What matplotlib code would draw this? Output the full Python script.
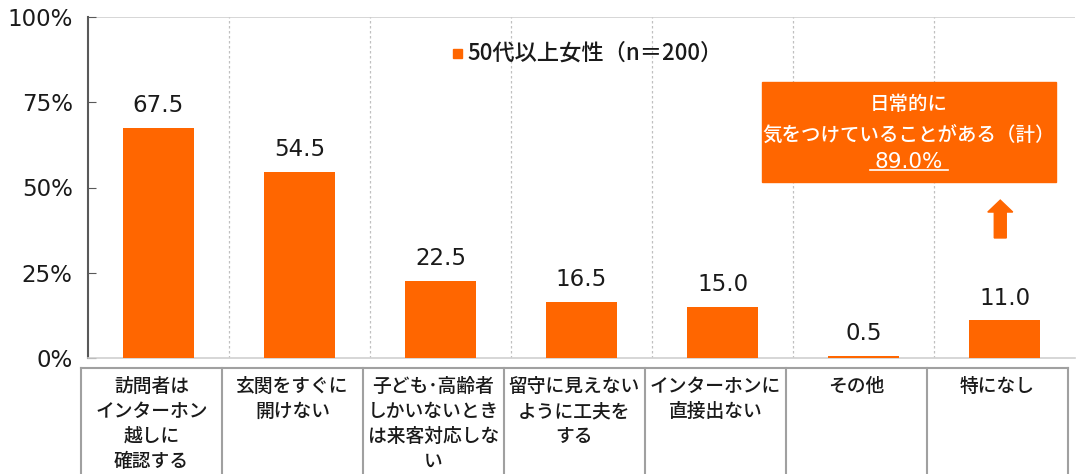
import matplotlib
matplotlib.use("Agg")
import matplotlib.pyplot as plt
from matplotlib.lines import Line2D
from matplotlib.patches import Rectangle, FancyArrow
import matplotlib.transforms as mtransforms

plt.rcParams['font.family'] = ['DejaVu Sans', 'Noto Sans CJK JP']
CJK = ['Noto Sans CJK JP', 'DejaVu Sans']

categories = ["訪問者は\nインターホン\n越しに\n確認する",
              "玄関をすぐに\n開けない",
              "子ども･高齢者\nしかいないとき\nは来客対応しな\nい",
              "留守に見えない\nように工夫を\nする",
              "インターホンに\n直接出ない",
              "その他",
              "特になし"]
values = [67.5, 54.5, 22.5, 16.5, 15.0, 0.5, 11.0]
series_name = "50代以上女性（n＝200）"
yticks = [0, 25, 50, 75, 100]
ytick_labels = ["0%", "25%", "50%", "75%", "100%"]
box_lines = ["日常的に", "気をつけていることがある（計）", "89.0%"]

ORANGE = "#FF6600"
W, H = 1077, 474
fig = plt.figure(figsize=(W / 100, H / 100), dpi=100)
ax = fig.add_axes([88 / W, 1 - 358 / H, (1075 - 88) / W, (358 - 17) / H])

x = list(range(len(values)))
ax.bar(x, values, width=0.5, color=ORANGE, zorder=3)
for xi, v in zip(x, values):
    ax.text(xi, v + 3.2, f"{v:.1f}", ha="center", va="bottom", fontsize=16.5, color="#1a1a1a")

ax.set_xlim(-0.5, len(values) - 0.5)
ax.set_ylim(0, 100)
ax.set_yticks(yticks)
ax.set_yticklabels(ytick_labels, fontsize=16.5, color="#1a1a1a")
ax.set_xticks([])
ax.tick_params(axis="y", direction="in", length=6, color="#595959", pad=11)

for s in ["top", "right"]:
    ax.spines[s].set_visible(False)
ax.spines["left"].set_color("#595959")
ax.spines["left"].set_linewidth(1.5)
ax.spines["bottom"].set_color("#d0d0d0")
ax.spines["bottom"].set_linewidth(1.2)
ax.axhline(100, color="#d0d0d0", lw=1.2, zorder=1)
for b in range(1, len(values)):
    ax.axvline(b - 0.5, color="#c0c0c0", lw=0.9, ls=(0, (2, 2)), zorder=1)

# legend
ax.add_patch(Rectangle((2.09, 87.9), 0.065, 2.7, color=ORANGE, zorder=4))
ax.text(2.19, 89.4, series_name, ha="left", va="center", fontsize=16,
        color="#1a1a1a", family=CJK, fontweight="medium")

# annotation box
ax.add_patch(Rectangle((4.28, 51.6), 2.085, 29.3, color=ORANGE, zorder=4))
bx = 5.32
ax.text(bx, 74.2, box_lines[0], ha="center", va="center", fontsize=14, color="white",
        zorder=5, family=CJK, fontweight="medium")
ax.text(bx, 65.3, box_lines[1], ha="center", va="center", fontsize=14, color="white",
        zorder=5, family=CJK, fontweight="medium")
ax.text(bx, 57.6, box_lines[2], ha="center", va="center", fontsize=15.5, color="white",
        zorder=5)
ax.plot([5.046, 5.60], [55.0, 55.0], color="white", lw=1.2, zorder=5)

# arrow
ax.add_patch(FancyArrow(5.97, 35.2, 0, 11.1, width=0.085, head_width=0.177,
                        head_length=3.5, length_includes_head=True,
                        color=ORANGE, zorder=4))

# table below the plot
trans = mtransforms.blended_transform_factory(ax.transData, ax.transAxes)
y_top = (358 - 368) / (358 - 17)
y_bot = (358 - 480) / (358 - 17)
off = -0.05
ax.add_line(Line2D([-0.5 + off, len(values) - 0.5 + off], [y_top, y_top], transform=trans,
                   color="#a0a0a0", lw=1.5, clip_on=False))
for b in range(len(values) + 1):
    ax.add_line(Line2D([b - 0.5 + off, b - 0.5 + off], [y_top, y_bot], transform=trans,
                       color="#a0a0a0", lw=1.5, clip_on=False))
y_txt = (358 - 377) / (358 - 17)
for xi, lab in zip(x, categories):
    ax.text(xi + off, y_txt, lab, transform=trans, ha="center", va="top",
            fontsize=13.5, linespacing=1.4, color="#1a1a1a", clip_on=False,
            family=CJK, fontweight="medium")

fig.savefig("out.png", dpi=100)
